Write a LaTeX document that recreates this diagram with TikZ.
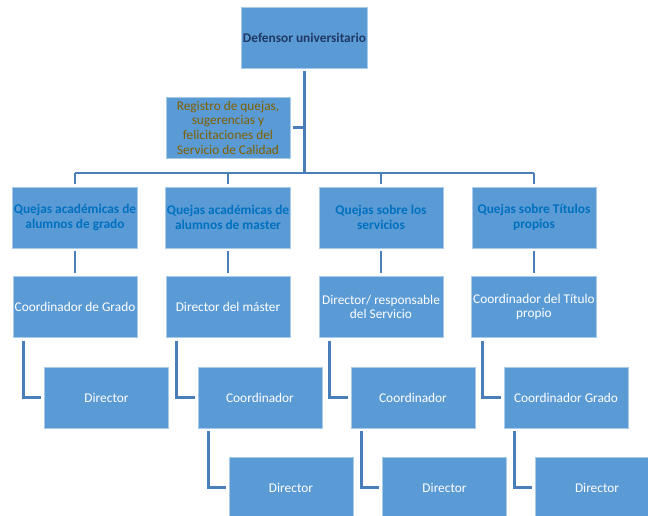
\documentclass[tikz,border=0pt]{standalone}
\usepackage{fontspec}
\setmainfont{Carlito}
\definecolor{boxblue}{HTML}{5B9BD5}
\definecolor{boxedge}{HTML}{A9CBEA}
\definecolor{linkblue}{HTML}{4A7EB8}
\definecolor{navytext}{HTML}{1F3864}
\definecolor{olivetext}{HTML}{7F6000}
\definecolor{lvltext}{HTML}{0070C0}
\begin{document}
\begin{tikzpicture}[x=0.75pt,y=-0.75pt,
  orgbox/.style={rectangle, fill=boxblue, draw=boxedge, line width=0.6pt,
    minimum width=93pt, minimum height=45.75pt, inner sep=1pt, align=center,
    font=\fontsize{10}{11}\selectfont, text=white},
  topbox/.style={orgbox, text=navytext, font=\fontsize{10}{11}\selectfont\bfseries},
  regbox/.style={orgbox, text=olivetext},
  headbox/.style={orgbox, text=lvltext, font=\fontsize{10}{11}\selectfont\bfseries},
  link/.style={draw=linkblue, line width=2.2pt, shorten <=2pt, shorten >=2pt},
  elbow/.style={draw=linkblue, line width=2.2pt, shorten <=2pt, shorten >=2pt}
]
\useasboundingbox (0,0) rectangle (648,516);
\clip (0,0) rectangle (648,516);

% nodes
\node[topbox] (top) at (304.5,37.5) {Defensor universitario};
\node[regbox] (reg) at (228,127.5) {Registro de quejas,\\sugerencias y\\felicitaciones del\\Servicio de Calidad};

\node[headbox] (h1) at (75,217.5) {Quejas académicas de\\alumnos de grado};
\node[headbox] (h2) at (228,217.5) {Quejas académicas de\\alumnos de master};
\node[headbox] (h3) at (381,217.5) {Quejas sobre los\\servicios};
\node[headbox] (h4) at (534,217.5) {Quejas sobre Títulos\\propios};

\node[orgbox] (a1) at (75,307) {Coordinador de Grado};
\node[orgbox] (a2) at (228,307) {Director del máster};
\node[orgbox] (a3) at (381,307) {Director/ responsable\\del Servicio};
\node[orgbox] (a4) at (534,307) {Coordinador del Título\\propio};

\node[orgbox] (b1) at (106.5,397.5) {Director};
\node[orgbox] (b2) at (260,397.5) {Coordinador};
\node[orgbox] (b3) at (413,397.5) {Coordinador};
\node[orgbox] (b4) at (566,397.5) {Coordinador Grado};

\node[orgbox] (c2) at (291,487.5) {Director};
\node[orgbox] (c3) at (444.5,487.5) {Director};
\node[orgbox] (c4) at (597,487.5) {Director};

% bus
\coordinate (busmid) at (304.5,173);
\coordinate (busL) at (75,173);
\coordinate (busR) at (534,173);
\draw[link, shorten >=0pt] (top.south) -- (busmid);
\draw[link, shorten >=0pt] (reg.east) -- (reg.east -| busmid);
\draw[draw=linkblue, line width=2.2pt] (busL) -- (busR);
\foreach \n in {h1,h2,h3,h4}{
  \draw[link, shorten <=0pt] (busL -| \n.north) -- (\n.north);
}
\foreach \n/\m in {h1/a1,h2/a2,h3/a3,h4/a4}{
  \draw[link] (\n.south) -- (\m.north);
}
\foreach \n/\m in {a1/b1,a2/b2,a3/b3,a4/b4,b2/c2,b3/c3,b4/c4}{
  \draw[elbow] ([xshift=8.25pt]\n.south west) |- (\m.west);
}
\end{tikzpicture}
\end{document}
